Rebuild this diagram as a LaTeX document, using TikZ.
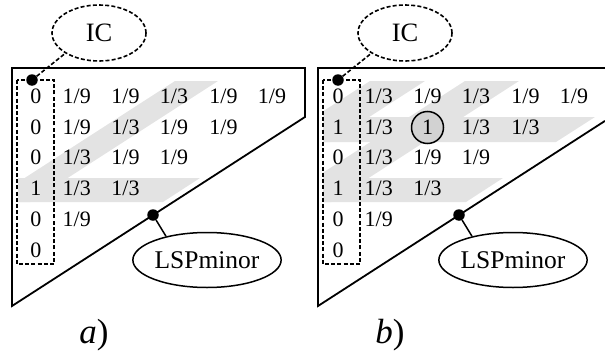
\documentclass[tikz,border=0pt]{standalone}
\usepackage{fontspec}
\setmainfont{Liberation Serif}
\usetikzlibrary{shapes.geometric}
\definecolor{bandgray}{RGB}{227,227,227}
\definecolor{circgray}{RGB}{210,210,210}
\begin{document}
\begin{tikzpicture}[x=1pt,y=-1pt,
  frame/.style={line width=1.8pt, line join=miter},
  cell/.style={anchor=base, inner sep=0pt, font=\fontsize{22}{24}\selectfont},
  colbox/.style={draw, line width=1.5pt, dash pattern=on 4pt off 2.2pt},
  dotmark/.style={circle, fill=black, inner sep=0pt, minimum size=11.5pt},
  icell/.style={ellipse, draw, line width=1.6pt, dash pattern=on 4pt off 2.2pt, inner sep=0pt, minimum width=94pt, minimum height=56pt, font=\fontsize{26.5}{28}\selectfont},
  lspell/.style={ellipse, draw, line width=1.5pt, inner sep=0pt, minimum width=122pt, minimum height=55pt, font=\fontsize{25.5}{28}\selectfont},
  icline/.style={line width=1.6pt, dash pattern=on 4pt off 2.2pt},
  lspline/.style={line width=1.5pt},
  hlcircle/.style={circle, draw, fill=circgray, line width=1.5pt, minimum size=32pt, inner sep=0pt},
  panellabel/.style={anchor=base, inner sep=0pt, font=\fontsize{35}{38}\selectfont}
]
\useasboundingbox (0,0) rectangle (605,356);

% ---------- bands panel a ----------
\begin{scope}
  \clip (18,60) rectangle (305,306);
  \fill[bandgray] (175,81) -- (218,81) -- (218-1.55*121,202) -- (175-1.55*121,202) -- cycle;
  \fill[bandgray] (10,178) -- (200,178) -- (163,202) -- (10,202) -- cycle;
\end{scope}
% ---------- bands panel b ----------
\begin{scope}
  \clip (323,60) rectangle (605,306);
  \fill[bandgray] (370,81) -- (425,81) -- (425-1.55*61,142) -- (370-1.55*61,142) -- cycle;
  \fill[bandgray] (465,81) -- (519,81) -- (519-1.55*121,202) -- (465-1.55*121,202) -- cycle;
  \fill[bandgray] (315,117) -- (595,117) -- (556,142) -- (315,142) -- cycle;
  \fill[bandgray] (315,178) -- (503,178) -- (466,202) -- (315,202) -- cycle;
\end{scope}

% ---------- frames ----------
\draw[frame] (12,68) -- (305,68) -- (305,117) -- (12,306) -- cycle;
\draw[frame] (605,68) -- (318,68) -- (318,306) -- (605,120.9);

% ---------- dashed column boxes ----------
\draw[colbox] (17,80) rectangle (54,264);
\draw[colbox] (323,80) rectangle (360,264);

% ---------- highlight circle ----------
\node[hlcircle] (hl) at (427.5,127.5) {};

% ---------- panel a cells ----------
\node[cell] (a10) at (36,103.5) {0};
\node[cell] (a11) at (76.7,103.5) {1/9};
\node[cell] (a12) at (125.5,103.5) {1/9};
\node[cell] (a13) at (174,103.5) {1/3};
\node[cell] (a14) at (223.5,103.5) {1/9};
\node[cell] (a15) at (272,103.5) {1/9};
\node[cell] (a20) at (36,134.2) {0};
\node[cell] (a21) at (76.7,134.2) {1/9};
\node[cell] (a22) at (125.5,134.2) {1/3};
\node[cell] (a23) at (174,134.2) {1/9};
\node[cell] (a24) at (223.5,134.2) {1/9};
\node[cell] (a30) at (36,164.9) {0};
\node[cell] (a31) at (76.7,164.9) {1/3};
\node[cell] (a32) at (125.5,164.9) {1/9};
\node[cell] (a33) at (174,164.9) {1/9};
\node[cell] (a40) at (36,195.6) {1};
\node[cell] (a41) at (76.7,195.6) {1/3};
\node[cell] (a42) at (125.5,195.6) {1/3};
\node[cell] (a50) at (36,226.3) {0};
\node[cell] (a51) at (76.7,226.3) {1/9};
\node[cell] (a60) at (36,257) {0};

% ---------- panel b cells ----------
\node[cell] (b10) at (338,103.5) {0};
\node[cell] (b11) at (378.7,103.5) {1/3};
\node[cell] (b12) at (427.5,103.5) {1/9};
\node[cell] (b13) at (476,103.5) {1/3};
\node[cell] (b14) at (525.5,103.5) {1/9};
\node[cell] (b15) at (574,103.5) {1/9};
\node[cell] (b20) at (338,134.2) {1};
\node[cell] (b21) at (378.7,134.2) {1/3};
\node[cell] (b22) at (427.5,134.2) {1};
\node[cell] (b23) at (476,134.2) {1/3};
\node[cell] (b24) at (525.5,134.2) {1/3};
\node[cell] (b30) at (338,164.9) {0};
\node[cell] (b31) at (378.7,164.9) {1/3};
\node[cell] (b32) at (427.5,164.9) {1/9};
\node[cell] (b33) at (476,164.9) {1/9};
\node[cell] (b40) at (338,195.6) {1};
\node[cell] (b41) at (378.7,195.6) {1/3};
\node[cell] (b42) at (427.5,195.6) {1/3};
\node[cell] (b50) at (338,226.3) {0};
\node[cell] (b51) at (378.7,226.3) {1/9};
\node[cell] (b60) at (338,257) {0};

% ---------- callouts ----------
\node[icell] (ica) at (99,33) {IC};
\node[icell] (icb) at (405,33) {IC};
\node[lspell] (lspa) at (207,260) {LSPminor};
\node[lspell] (lspb) at (513,260) {LSPminor};

\node[dotmark] (dica) at (32,80) {};
\node[dotmark] (dicb) at (338,80) {};
\node[dotmark] (dla) at (153,215) {};
\node[dotmark] (dlb) at (459,215) {};

\draw[icline] (dica) -- (ica.south west);
\draw[icline] (dicb) -- (icb.south west);
\draw[lspline] (dla) -- (lspa.150);
\draw[lspline] (dlb) -- (lspb.150);

% ---------- panel labels ----------
\node[panellabel] (la) at (94,343) {\textit{a})};
\node[panellabel] (lb) at (390,343) {\textit{b})};
\end{tikzpicture}
\end{document}
